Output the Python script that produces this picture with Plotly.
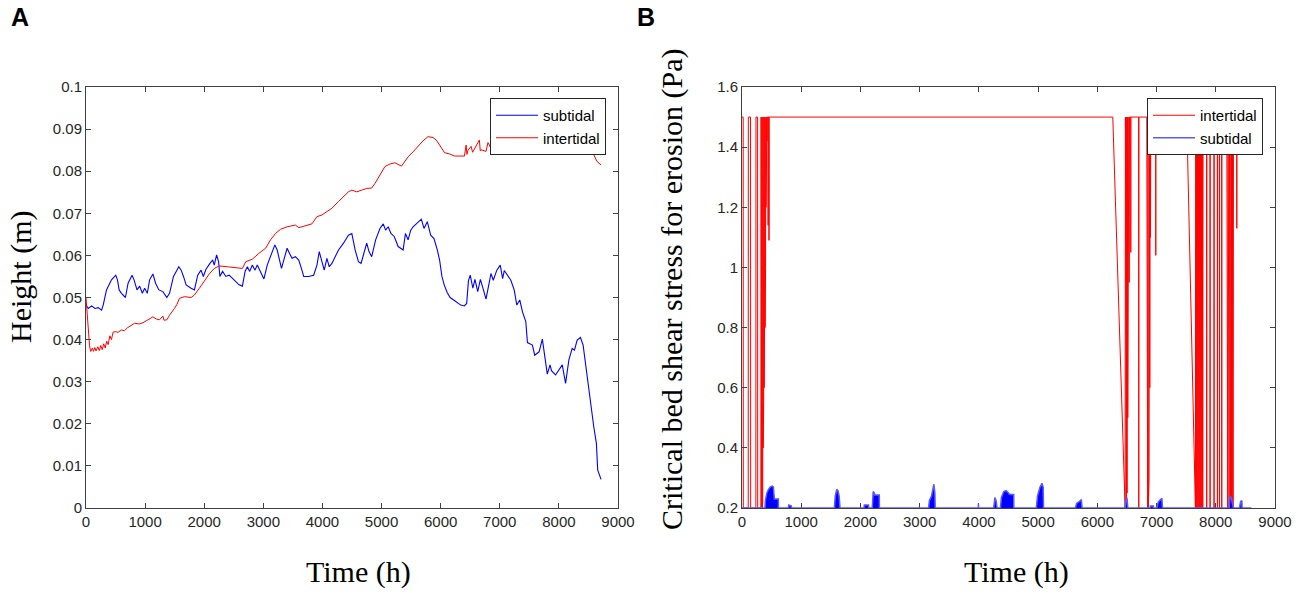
import plotly.graph_objects as go

# ---- panel A: height (m) vs time (h) ----
sub_t = [0, 39, 95, 151, 207, 263, 291, 347, 431, 504, 532, 561, 600, 667, 712, 779, 813, 863,
         908, 953, 992, 1037, 1076, 1132, 1177, 1233, 1301, 1368, 1413, 1480, 1570, 1610, 1649,
         1694, 1778, 1834, 1890, 1946, 1985, 2030, 2097, 2142, 2170, 2209, 2243, 2265, 2310,
         2366, 2422, 2478, 2534, 2590, 2646, 2691, 2730, 2769, 2814, 2859, 2898, 2954, 3010,
         3066, 3139, 3195, 3234, 3262, 3307, 3346, 3402, 3442, 3486, 3543, 3599, 3644, 3683,
         3767, 3851, 3907, 3946, 3991, 4030, 4075, 4115, 4160, 4216, 4272, 4356, 4440, 4497,
         4553, 4609, 4653, 4693, 4749, 4788, 4833, 4900, 4973, 5029, 5068, 5113, 5158, 5214,
         5281, 5365, 5404, 5449, 5494, 5533, 5617, 5673, 5718, 5774, 5831, 5887, 5943, 5982,
         6021, 6060, 6110, 6160, 6220, 6280, 6340, 6400, 6440, 6470, 6500, 6545, 6580, 6627,
         6672, 6720, 6767, 6851, 6890, 6950, 7008, 7048, 7076, 7187, 7244, 7288, 7339, 7384,
         7440, 7468, 7552, 7591, 7665, 7720, 7749, 7804, 7850, 7875, 7944, 8000, 8057, 8113,
         8169, 8225, 8264, 8309, 8365, 8410, 8477, 8522, 8590, 8634, 8657, 8713]
sub_h = [0.0482, 0.0474, 0.0480, 0.0474, 0.0476, 0.0470, 0.0482, 0.0518, 0.0542, 0.0553, 0.0542,
         0.0518, 0.0510, 0.0500, 0.0534, 0.0553, 0.0542, 0.0518, 0.0527, 0.0510, 0.0522, 0.0510,
         0.0542, 0.0556, 0.0534, 0.0518, 0.0514, 0.0500, 0.0510, 0.0550, 0.0573, 0.0565, 0.0550,
         0.0530, 0.0522, 0.0518, 0.0553, 0.0565, 0.0550, 0.0567, 0.0581, 0.0589, 0.0577, 0.0601,
         0.0585, 0.0550, 0.0562, 0.0550, 0.0553, 0.0546, 0.0538, 0.0530, 0.0527, 0.0562, 0.0573,
         0.0562, 0.0577, 0.0565, 0.0577, 0.0562, 0.0544, 0.0577, 0.0605, 0.0625, 0.0613, 0.0593,
         0.0569, 0.0589, 0.0617, 0.0605, 0.0593, 0.0597, 0.0589, 0.0569, 0.0550, 0.0550, 0.0553,
         0.0577, 0.0609, 0.0585, 0.0565, 0.0593, 0.0573, 0.0581, 0.0597, 0.0613, 0.0629, 0.0648,
         0.0652, 0.0613, 0.0585, 0.0581, 0.0601, 0.0629, 0.0609, 0.0597, 0.0637, 0.0664, 0.0675,
         0.0660, 0.0668, 0.0652, 0.0645, 0.0621, 0.0613, 0.0652, 0.0637, 0.0660, 0.0668, 0.0680,
         0.0686, 0.0664, 0.0680, 0.0648, 0.0640, 0.0613, 0.0589, 0.0550, 0.0530, 0.0512, 0.0500,
         0.0494, 0.0488, 0.0482, 0.0480, 0.0486, 0.0540, 0.0553, 0.0522, 0.0543, 0.0514, 0.0543,
         0.0520, 0.0496, 0.0557, 0.0541, 0.0565, 0.0577, 0.0545, 0.0564, 0.0541, 0.0518, 0.0482,
         0.0494, 0.0466, 0.0443, 0.0393, 0.0387, 0.0363, 0.0371, 0.0401, 0.0373, 0.0318, 0.0340,
         0.0326, 0.0316, 0.0328, 0.0340, 0.0296, 0.0352, 0.0379, 0.0375, 0.0399, 0.0405, 0.0387,
         0.0312, 0.0274, 0.0193, 0.0154, 0.0090, 0.0068]

inter_t = [0, 30, 60, 80, 110, 125, 150, 170, 200, 225, 250, 275, 300, 325, 350, 375, 403, 430,
           460, 504, 540, 600, 650, 700, 740, 824, 900, 964, 1048, 1132, 1190, 1244, 1300, 1320,
           1368, 1413, 1497, 1540, 1581, 1666, 1778, 1834, 1918, 2002, 2086, 2170, 2254, 2394,
           2534, 2646, 2702, 2814, 2926, 3038, 3122, 3206, 3290, 3402, 3543, 3600, 3655, 3739,
           3823, 3907, 3991, 4075, 4160, 4272, 4356, 4440, 4497, 4581, 4665, 4749, 4833, 4889,
           4973, 5057, 5141, 5225, 5337, 5393, 5449, 5533, 5617, 5701, 5785, 5870, 5926, 5982,
           6066, 6150, 6234, 6318, 6402, 6430, 6445, 6459, 6515, 6540, 6571, 6655, 6670, 6683,
           6767, 6800, 6850, 6880, 6950, 7000, 7100, 7200, 7300, 7400, 7467, 7500, 7580, 7620,
           7692, 7740, 7804, 7850, 7916, 7960, 8028, 8080, 8141, 8200, 8250, 8309, 8360, 8421,
           8506, 8590, 8646, 8713]
inter_h = [0.0500, 0.0440, 0.0385, 0.0372, 0.0380, 0.0372, 0.0381, 0.0373, 0.0383, 0.0374,
           0.0386, 0.0376, 0.0390, 0.0380, 0.0396, 0.0388, 0.0409, 0.0400, 0.0418, 0.0419,
           0.0417, 0.0423, 0.0421, 0.0428, 0.0431, 0.0439, 0.0437, 0.0440, 0.0447, 0.0454,
           0.0449, 0.0447, 0.0456, 0.0446, 0.0447, 0.0458, 0.0474, 0.0484, 0.0498, 0.0502,
           0.0500, 0.0506, 0.0522, 0.0538, 0.0556, 0.0569, 0.0575, 0.0573, 0.0571, 0.0569,
           0.0585, 0.0591, 0.0605, 0.0617, 0.0637, 0.0652, 0.0662, 0.0668, 0.0672, 0.0666,
           0.0668, 0.0672, 0.0675, 0.0692, 0.0696, 0.0704, 0.0712, 0.0728, 0.0739, 0.0751,
           0.0755, 0.0751, 0.0755, 0.0759, 0.0760, 0.0771, 0.0791, 0.0811, 0.0817, 0.0820,
           0.0812, 0.0822, 0.0834, 0.0846, 0.0860, 0.0872, 0.0882, 0.0880, 0.0874, 0.0862,
           0.0844, 0.0841, 0.0836, 0.0836, 0.0836, 0.0862, 0.0840, 0.0849, 0.0859, 0.0845,
           0.0852, 0.0874, 0.0848, 0.0851, 0.0847, 0.0868, 0.0855, 0.0868, 0.0858, 0.0870,
           0.0872, 0.0870, 0.0868, 0.0866, 0.0859, 0.0868, 0.0851, 0.0866, 0.0855, 0.0868,
           0.0847, 0.0862, 0.0849, 0.0866, 0.0851, 0.0868, 0.0858, 0.0870, 0.0860, 0.0870,
           0.0866, 0.0868, 0.0855, 0.0839, 0.0823, 0.0815]

# ---- panel B: critical bed shear stress for erosion (Pa) ----
cs_inter_t = [0, 20, 22, 105, 107, 144, 146, 234, 236, 263, 265, 318, 322, 326, 330, 334, 338,
              342, 346, 350, 354, 358, 362, 366, 370, 374, 378, 382, 386, 390, 394, 398, 402,
              406, 410, 414, 418, 422, 426, 440, 441, 442, 454, 456, 458,
              6261, 6469, 6474, 6479, 6484, 6490, 6496, 6502, 6508, 6514, 6520, 6526, 6532,
              6538, 6543, 6563, 6565, 6567, 6698, 6700, 6702, 6835, 6838, 6844, 6850, 6856,
              6862, 6868, 6874, 6880, 6886, 6892, 6898, 6903, 6985, 6987, 6989,
              7510, 7656, 7662, 7668, 7676, 7684, 7692, 7700, 7708, 7716, 7724, 7732, 7740,
              7748, 7756, 7764, 7772, 7780, 7786, 7845, 7847, 7849, 7902, 7904, 7906, 7969,
              7971, 7973, 8026, 8028, 8030, 8060, 8062, 8064, 8099, 8101, 8103, 8186, 8190,
              8196, 8202, 8208, 8214, 8220, 8226, 8232, 8238, 8244, 8250, 8256, 8262, 8268,
              8276, 8284, 8292, 8299, 8353, 8355, 8357, 8760]
cs_inter_v = [1.5, 1.5, 0.2, 0.2, 1.5, 1.5, 0.2, 0.2, 1.5, 1.5, 0.2, 0.2, 1.5, 0.2, 1.5, 0.2, 1.5,
              0.2, 1.5, 0.22, 1.5, 0.4, 1.5, 0.55, 1.5, 0.6, 1.5, 0.85, 1.5, 0.8, 1.5, 1.0, 1.5,
              1.2, 1.5, 1.35, 1.5, 1.42, 1.5, 1.5, 1.14, 1.5, 1.5, 1.09, 1.5,
              1.5, 0.2, 1.5, 0.2, 1.5, 0.2, 1.5, 0.25, 1.5, 0.5, 1.5, 0.75, 1.5,
              0.95, 1.5, 1.5, 1.05, 1.5, 1.5, 0.2, 1.5, 1.5, 0.2, 1.5, 0.2, 1.5,
              0.2, 1.5, 0.3, 1.5, 0.6, 1.5, 1.1, 1.5, 1.5, 1.04, 1.5,
              1.5, 0.2, 1.5, 0.2, 1.5, 0.2, 1.5, 0.2, 1.5, 0.2, 1.5, 0.2, 1.5,
              0.2, 1.5, 0.2, 1.5, 0.2, 1.5, 1.5, 0.2, 1.5, 1.5, 0.2, 1.5, 1.5,
              0.2, 1.5, 1.5, 0.2, 1.5, 1.5, 0.2, 1.5, 1.5, 0.2, 1.5, 1.5, 0.2,
              1.5, 0.2, 1.5, 0.2, 1.5, 0.2, 1.5, 0.2, 1.5, 0.2, 1.5, 0.2, 1.5,
              0.2, 1.5, 0.2, 1.5, 1.5, 1.13, 1.5, 1.5]

cs_sub_t = [0, 388, 395, 420, 450, 480, 510, 530, 540, 546, 614, 615, 782, 790, 830, 838,
            1560, 1575, 1600, 1620, 1640, 1655, 2060, 2066, 2136, 2140, 2200, 2215, 2235, 2241,
            2318, 2320, 3150, 3165, 3200, 3225, 3240, 3257, 3262, 3990, 3992, 3994, 4250, 4270,
            4290, 4307, 4364, 4380, 4420, 4460, 4500, 4518, 4588, 4590, 4970, 4990, 5030, 5064,
            5085, 5092, 5630, 5650, 5700, 5730, 5743, 6470, 6480, 6500, 6514, 6890, 6895, 6945,
            6947, 7004, 7030, 7060, 7090, 7100, 8225, 8240, 8260, 8298, 8400, 8420, 8440, 8445,
            8600]
cs_sub_v = [0.2, 0.2, 0.225, 0.25, 0.263, 0.27, 0.273, 0.27, 0.245, 0.23, 0.23, 0.2, 0.2, 0.21,
            0.207, 0.2, 0.2, 0.24, 0.262, 0.258, 0.24, 0.2, 0.2, 0.21, 0.21, 0.2, 0.2, 0.255,
            0.25, 0.243, 0.243, 0.2, 0.2, 0.225, 0.24, 0.265, 0.279, 0.25, 0.2, 0.2, 0.215, 0.2,
            0.2, 0.235, 0.225, 0.2, 0.2, 0.235, 0.255, 0.258, 0.25, 0.245, 0.245, 0.2, 0.2, 0.24,
            0.268, 0.282, 0.27, 0.2, 0.2, 0.215, 0.222, 0.228, 0.2, 0.2, 0.222, 0.235, 0.2, 0.2,
            0.207, 0.207, 0.2, 0.2, 0.22, 0.228, 0.232, 0.2, 0.2, 0.24, 0.235, 0.2, 0.2, 0.222,
            0.225, 0.2, 0.2]

W, H = 1299, 592
BLUE = "rgb(0,0,255)"
RED = "rgb(255,0,0)"
AXC = "#404040"
TICKFONT = dict(family="Liberation Sans, Arial", size=15, color="#262626")
SERIF = "Liberation Serif, Times New Roman"

fig = go.Figure()
fig.add_trace(go.Scatter(x=sub_t, y=sub_h, mode="lines", name="subtidal",
                         line=dict(color=BLUE, width=1.1), xaxis="x", yaxis="y", legend="legend"))
fig.add_trace(go.Scatter(x=inter_t, y=inter_h, mode="lines", name="intertidal",
                         line=dict(color=RED, width=1), xaxis="x", yaxis="y", legend="legend"))
fig.add_trace(go.Scatter(x=cs_inter_t, y=cs_inter_v, mode="lines", name="intertidal",
                         line=dict(color=RED, width=1), xaxis="x2", yaxis="y2", legend="legend2"))
# filled bumps of the dense subtidal signal (no legend entry), then its outline line
fig.add_trace(go.Scatter(x=cs_sub_t, y=cs_sub_v, mode="none", fill="tozeroy", fillcolor=BLUE,
                         showlegend=False, hoverinfo="skip", xaxis="x2", yaxis="y2"))
fig.add_trace(go.Scatter(x=cs_sub_t, y=cs_sub_v, mode="lines", name="subtidal",
                         line=dict(color="rgb(90,90,255)", width=1.5), xaxis="x2", yaxis="y2",
                         legend="legend2"))

ydom = [1 - 508 / H, 1 - 87 / H]
common = dict(showgrid=False, zeroline=False, showline=True, mirror="ticks", linecolor=AXC,
              linewidth=1, ticks="inside", ticklen=5, tickcolor=AXC, tickfont=TICKFONT,
              automargin=False)

legend_style = dict(bgcolor="white", bordercolor="#262626", borderwidth=1,
                    font=dict(family="Liberation Sans, Arial", size=15, color="black"),
                    xanchor="right", yanchor="top", itemwidth=42, tracegroupgap=0)

fig.update_layout(
    width=W, height=H,
    margin=dict(l=0, r=0, t=0, b=0),
    paper_bgcolor="white", plot_bgcolor="white",
    xaxis=dict(domain=[86 / W, 618 / W], range=[0, 9000], dtick=1000, anchor="y", **common),
    yaxis=dict(domain=ydom, range=[0, 0.1], dtick=0.01, anchor="x", **common),
    xaxis2=dict(domain=[742 / W, 1275 / W], range=[0, 9000], dtick=1000, anchor="y2",
                layer="below traces", **common),
    yaxis2=dict(domain=ydom, range=[0.2, 1.6], dtick=0.2, anchor="x2", **common),
    legend=dict(x=606 / W, y=1 - 98 / H, **legend_style),
    legend2=dict(x=1263 / W, y=1 - 98 / H, **legend_style),
    showlegend=True,
)

annotations = [
    dict(text="<b>A</b>", x=20 / W, y=1 - 17 / H),
    dict(text="<b>B</b>", x=646 / W, y=1 - 17 / H),
]
for a in annotations:
    a.update(xref="paper", yref="paper", showarrow=False, xanchor="center", yanchor="middle",
             font=dict(family="Liberation Sans, Arial", size=25, color="black"))

titles = [
    dict(text="Height (m)", x=21 / W, y=1 - 277 / H, textangle=-90),
    dict(text="Critical bed shear stress for erosion (Pa)", x=672 / W, y=1 - 289 / H, textangle=-90),
    dict(text="Time (h)", x=358 / W, y=1 - 572 / H),
    dict(text="Time (h)", x=1016 / W, y=1 - 572 / H),
]
for a in titles:
    a.update(xref="paper", yref="paper", showarrow=False, xanchor="center", yanchor="middle",
             font=dict(family=SERIF, size=30, color="black"))

fig.update_layout(annotations=annotations + titles)

# the browser's default 8px body margin would shift the whole figure
fig.write_html("out.html", config={"displayModeBar": False},
               post_script="document.body.style.margin='0px';")
